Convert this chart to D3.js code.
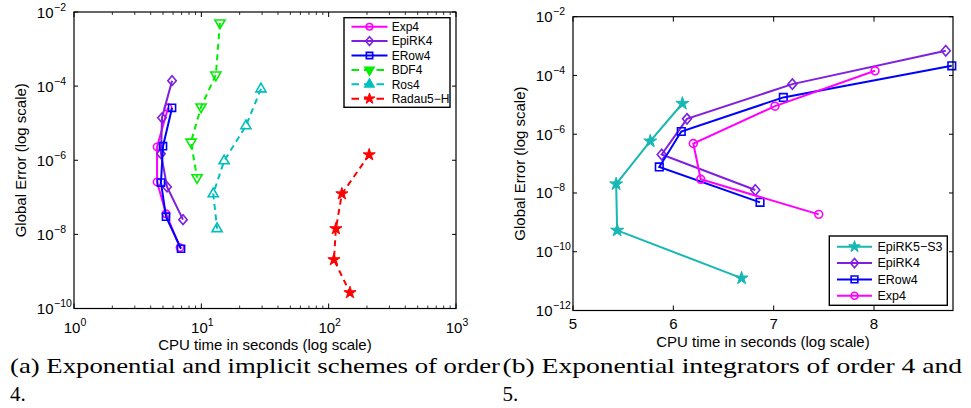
<!DOCTYPE html>
<html>
<head>
<meta charset="utf-8">
<script src="https://cdn.jsdelivr.net/npm/d3@7"></script>
<style>
  html, body { margin: 0; padding: 0; background: #fff; }
  svg { display: block; }
  .sans { font-family: "Liberation Sans", Arial, Helvetica, sans-serif; }
  .serif { font-family: "Liberation Serif", "DejaVu Serif", serif; }
</style>
</head>
<body>
<svg id="fig" width="971" height="408"></svg>
<script>
// ---- Panel (a): exponential vs implicit schemes, order 4 (CPU time s, global error)
const namesA = ["Exp4", "EpiRK4", "ERow4", "BDF4", "Ros4", "Radau5\u2212H"];
const aExp4Time   = [5.48, 4.49, 4.49, 5.28, 6.80];
const aExp4Err    = [2.6e-5, 2.3e-6, 2.6e-7, 3.6e-8, 4.4e-9];
const aEpiRK4Time = [5.89, 4.91, 4.82, 5.38, 7.18];
const aEpiRK4Err  = [1.4e-4, 1.4e-5, 1.5e-6, 1.9e-7, 2.5e-8];
const aERow4Time  = [5.89, 5.00, 4.82, 5.28, 6.93];
const aERow4Err   = [2.6e-5, 2.4e-6, 2.5e-7, 3.0e-8, 4.1e-9];
const aBDF4Time   = [14.0, 13.0, 9.95, 8.30, 9.25];
const aBDF4Err    = [5.1e-3, 2.0e-4, 2.75e-5, 3.1e-6, 3.4e-7];
const aRos4Time   = [29.4, 22.4, 15.1, 12.4, 13.3];
const aRos4Err    = [8.4e-5, 8.5e-6, 9.6e-7, 1.24e-7, 1.42e-8];
const aRadauTime  = [208, 127, 114, 110, 147];
const aRadauErr   = [1.4e-6, 1.24e-7, 1.42e-8, 2.07e-9, 2.67e-10];
const aXTicks = [1, 10, 100, 1000];
const aYTicks = [1e-2, 1e-4, 1e-6, 1e-8, 1e-10];

// ---- Panel (b): exponential integrators of order 4 and 5
const namesB = ["EpiRK5\u2212S3", "EpiRK4", "ERow4", "Exp4"];
const bEpiRK5Time = [6.09, 5.77, 5.43, 5.44, 6.68];
const bEpiRK5Err  = [1.11e-5, 5.8e-7, 2.02e-8, 5.35e-10, 1.26e-11];
const bEpiRK4Time = [8.715, 7.186, 6.136, 5.884, 6.817];
const bEpiRK4Err  = [6.93e-4, 5.07e-5, 3.33e-6, 2.04e-7, 1.26e-8];
const bERow4Time  = [8.775, 7.096, 6.079, 5.860, 6.864];
const bERow4Err   = [2.13e-4, 1.79e-5, 1.24e-6, 7.69e-8, 4.81e-9];
const bExp4Time   = [8.010, 7.013, 6.199, 6.273, 7.449];
const bExp4Err    = [1.44e-4, 9.02e-6, 4.83e-7, 2.92e-8, 1.87e-9];
const bXTicks = [5, 6, 7, 8];
const bYTicks = [1e-2, 1e-4, 1e-6, 1e-8, 1e-10, 1e-12];

const xLabel = "CPU time in seconds (log scale)";
const yLabel = "Global Error (log scale)";
const captionA = ["(a) Exponential and implicit schemes of order", "4."];
const captionB = ["(b) Exponential integrators of order 4 and", "5."];

const svg = d3.select("#fig");
const zip = (t, e) => t.map((v, i) => [v, e[i]]);

// marker shapes
function markerPath(kind, s) {
  switch (kind) {
    case "circle":   return d3.symbol(d3.symbolCircle, 42 * s)();
    case "square":   return d3.symbol(d3.symbolSquare, 50 * s)();
    case "diamond": { const w = 4.2 * Math.sqrt(s), h = 4.9 * Math.sqrt(s);
                      return `M0,${-h}L${w},0L0,${h}L${-w},0Z`; }
    case "tri-up":
    case "tri-down": return d3.symbol(d3.symbolTriangle, 44 * s)();
    case "star":     return d3.symbol(d3.symbolStar, 46 * s)();
  }
}
function drawMarker(g, kind, color, cx, cy, s) {
  const p = g.append("path")
    .attr("d", markerPath(kind, s))
    .attr("transform", `translate(${cx},${cy})` + (kind === "tri-down" ? " rotate(180)" : ""))
    .attr("stroke", color)
    .attr("stroke-width", kind === "star" ? 1 : 1.6)
    .attr("fill", kind === "star" ? color : "none");
  return p;
}

function powLabel(g, x, y, exp, anchorRightOf10) {
  // "10" with superscript exponent
  const t = g.append("text").attr("class", "sans").attr("font-size", 15).attr("fill", "#000");
  if (anchorRightOf10) {
    t.attr("x", x).attr("y", y).attr("text-anchor", "end").text("10");
    g.append("text").attr("class", "sans").attr("font-size", 10.5)
      .attr("x", x + 0.5).attr("y", y - 7).text(exp);
  } else {
    t.attr("x", x).attr("y", y).attr("text-anchor", "middle");
    t.append("tspan").text("10");
    t.append("tspan").attr("font-size", 10.5).attr("dy", -7).text(exp);
  }
}

function expString(v) {
  const e = Math.round(Math.log10(v));
  return e < 0 ? "\u2212" + Math.abs(e) : String(e);
}

function drawPanel(cfg) {
  const { x, y, left, right, top, bottom } = cfg;
  const g = svg.append("g");

  // x ticks (bottom & top, inward)
  cfg.xMinor.forEach(v => {
    const px = x(v);
    g.append("line").attr("x1", px).attr("x2", px).attr("y1", bottom).attr("y2", bottom - 3).attr("stroke", "#000").attr("stroke-width", 0.8);
    g.append("line").attr("x1", px).attr("x2", px).attr("y1", top).attr("y2", top + 3).attr("stroke", "#000").attr("stroke-width", 0.8);
  });
  cfg.xTicks.forEach(v => {
    const px = x(v);
    g.append("line").attr("x1", px).attr("x2", px).attr("y1", bottom).attr("y2", bottom - 5).attr("stroke", "#000");
    g.append("line").attr("x1", px).attr("x2", px).attr("y1", top).attr("y2", top + 5).attr("stroke", "#000");
    if (cfg.xLog) powLabel(g, px + 1, cfg.xTickY, expString(v), false);
    else g.append("text").attr("class", "sans").attr("font-size", 15).attr("x", px).attr("y", cfg.xTickY)
          .attr("text-anchor", "middle").text(String(v));
  });
  // y ticks (left & right, inward)
  cfg.yTicks.forEach(v => {
    const py = y(v);
    g.append("line").attr("x1", left).attr("x2", left + 4).attr("y1", py).attr("y2", py).attr("stroke", "#000");
    g.append("line").attr("x1", right).attr("x2", right - 4).attr("y1", py).attr("y2", py).attr("stroke", "#000");
    powLabel(g, left - 20.5, py + 5.5, expString(v), true);
  });

  // data
  const plot = g.append("g");
  cfg.series.forEach(s => {
    const pts = zip(s.t, s.e);
    plot.append("path")
      .datum(pts)
      .attr("d", d3.line().x(d => x(d[0])).y(d => y(d[1])))
      .attr("fill", "none")
      .attr("stroke", s.color)
      .attr("stroke-width", 2)
      .attr("stroke-dasharray", s.dash ? "6,4.5" : null);
    pts.forEach(d => drawMarker(plot, s.marker, s.color, x(d[0]), y(d[1]), cfg.markerScale));
  });

  // box
  g.append("rect").attr("x", left).attr("y", top).attr("width", right - left).attr("height", bottom - top)
    .attr("fill", "none").attr("stroke", "#000").attr("stroke-width", 1.2);

  // legend
  const L = cfg.legend;
  const lg = g.append("g");
  lg.append("rect").attr("x", L.x0).attr("y", L.y0).attr("width", L.x1 - L.x0).attr("height", L.y1 - L.y0)
    .attr("fill", "#fff").attr("stroke", "#000").attr("stroke-width", 1.4);
  cfg.series.forEach((s, i) => {
    const yy = L.rowY + i * L.step;
    lg.append("line").attr("x1", L.lineX0).attr("x2", L.lineX1).attr("y1", yy).attr("y2", yy)
      .attr("stroke", s.color).attr("stroke-width", 2)
      .attr("stroke-dasharray", s.dash ? "7.5,5" : null);
    const mx = (L.lineX0 + L.lineX1) / 2;
    const m = drawMarker(lg, s.marker, s.color, mx, yy, L.markerScale);
    if (s.legendFill) m.attr("fill", s.color);
    lg.append("text").attr("class", "sans").attr("font-size", L.fontSize)
      .attr("x", L.textX).attr("y", yy + 4.3).text(s.name);
  });

  // axis labels
  g.append("text").attr("class", "sans").attr("font-size", 15).attr("text-anchor", "middle")
    .attr("x", (left + right) / 2).attr("y", cfg.xLabelY).text(xLabel);
  g.append("text").attr("class", "sans").attr("font-size", 15).attr("text-anchor", "middle")
    .attr("transform", `translate(${cfg.yLabelX},${(top + bottom) / 2}) rotate(-90)`).text(yLabel);

  // caption
  const c = cfg.caption;
  g.append("text").attr("class", "serif").attr("font-size", 21)
    .attr("x", c.x).attr("y", 372.5).attr("textLength", c.w).attr("lengthAdjust", "spacingAndGlyphs")
    .text(c.lines[0]);
  g.append("text").attr("class", "serif").attr("font-size", 21)
    .attr("x", c.x).attr("y", 400.5).text(c.lines[1]);
}

// ---- panel (a)
const axL = 74, axR = 456, axT = 12, axB = 308.5;
const xA = d3.scaleLog().domain([1, 1000]).range([axL, axR]);
const yA = d3.scaleLog().domain([1e-10, 1e-2]).range([axB, axT]);
const minorA = [];
[1, 10, 100].forEach(d => { for (let k = 2; k <= 9; k++) minorA.push(d * k); });

drawPanel({
  x: xA, y: yA, left: axL, right: axR, top: axT, bottom: axB,
  xLog: true, xTicks: aXTicks, xMinor: minorA, yTicks: aYTicks,
  xTickY: 332.5, xLabelY: 349.5, yLabelX: 25.5, markerScale: 1,
  series: [
    { name: namesA[0], t: aExp4Time,   e: aExp4Err,   color: "#ff00ff", marker: "circle",   dash: false },
    { name: namesA[1], t: aEpiRK4Time, e: aEpiRK4Err, color: "#7f1fe0", marker: "diamond",  dash: false },
    { name: namesA[2], t: aERow4Time,  e: aERow4Err,  color: "#0000ff", marker: "square",   dash: false },
    { name: namesA[3], t: aBDF4Time,   e: aBDF4Err,   color: "#00ee00", marker: "tri-down", dash: true, legendFill: true },
    { name: namesA[4], t: aRos4Time,   e: aRos4Err,   color: "#00bfbf", marker: "tri-up",   dash: true, legendFill: true },
    { name: namesA[5], t: aRadauTime,  e: aRadauErr,  color: "#ff0000", marker: "star",     dash: true }
  ],
  legend: { x0: 344, y0: 17.7, x1: 450, y1: 107.3, lineX0: 351.5, lineX1: 387.5, textX: 391.7,
            rowY: 26.7, step: 14.4, fontSize: 12, markerScale: 0.8 },
  caption: { x: 10, w: 490, lines: captionA }
});

// ---- panel (b)
const bxL = 573, bxR = 953, bxT = 16.7, bxB = 310.5;
const xB = d3.scaleLinear().domain([5, 8.787]).range([bxL, bxR]);
const yB = d3.scaleLog().domain([1e-12, 1e-2]).range([bxB, bxT]);

drawPanel({
  x: xB, y: yB, left: bxL, right: bxR, top: bxT, bottom: bxB,
  xLog: false, xTicks: bXTicks, xMinor: [], yTicks: bYTicks,
  xTickY: 329, xLabelY: 346.5, yLabelX: 525, markerScale: 1.15,
  series: [
    { name: namesB[0], t: bEpiRK5Time, e: bEpiRK5Err, color: "#17b8b4", marker: "star",    dash: false },
    { name: namesB[1], t: bEpiRK4Time, e: bEpiRK4Err, color: "#7f1fe0", marker: "diamond", dash: false },
    { name: namesB[2], t: bERow4Time,  e: bERow4Err,  color: "#0000ff", marker: "square",  dash: false },
    { name: namesB[3], t: bExp4Time,   e: bExp4Err,   color: "#ff00ff", marker: "circle",  dash: false }
  ],
  legend: { x0: 829.3, y0: 236, x1: 947.3, y1: 305.3, lineX0: 837, lineX1: 872, textX: 877.5,
            rowY: 246.7, step: 16.35, fontSize: 12.5, markerScale: 0.9 },
  caption: { x: 502.5, w: 459.5, lines: captionB }
});
</script>
</body>
</html>
